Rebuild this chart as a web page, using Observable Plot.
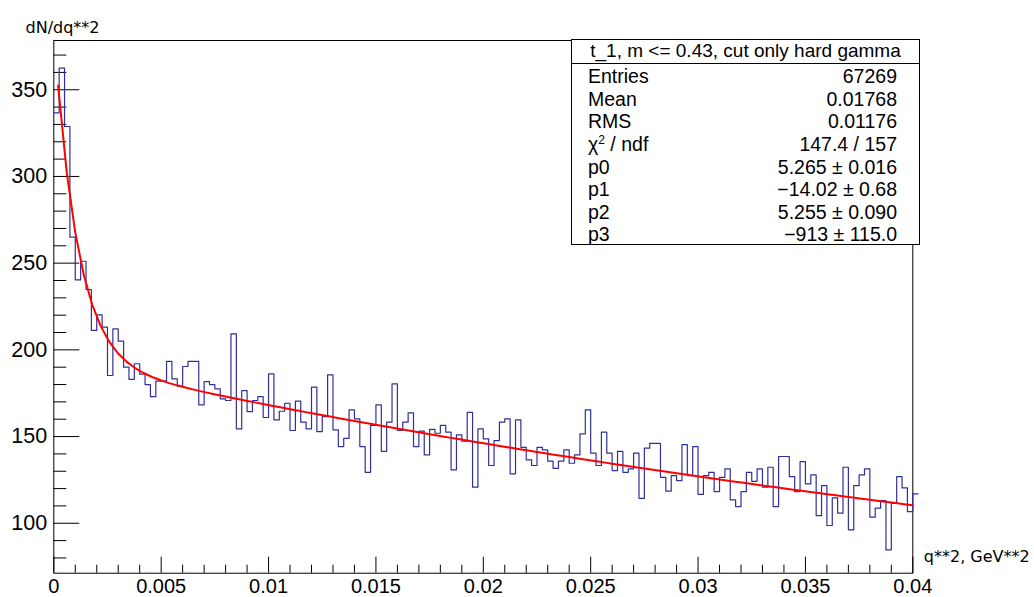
<!DOCTYPE html>
<html>
<head>
<meta charset="utf-8">
<script src="https://cdn.jsdelivr.net/npm/d3@7"></script>
<script src="https://cdn.jsdelivr.net/npm/@observablehq/plot@0.6"></script>
<style>
  body { margin: 0; background: #fff; }
  #wrap { position: relative; width: 1034px; height: 597px; overflow: hidden; }
  .stats {
    position: absolute; left: 571px; top: 39px; width: 349px; height: 206px;
    border: 1px solid #000; background: #fff; box-sizing: border-box;
    font-family: "Liberation Sans", Arial, Helvetica, sans-serif; font-size: 19.5px; color: #000;
  }
  .stats .title { height: 23px; line-height: 22px; text-align: center; border-bottom: 1px solid #000; font-size: 19px; }
  .stats .row { display: flex; justify-content: space-between; height: 22.65px; line-height: 24px; padding: 0 22px 0 16px; }
  .stats sup { font-size: 12px; line-height: 0; vertical-align: 7px; }
</style>
</head>
<body>
<div id="wrap"></div>
<script>
// dN/dq**2 per bin, bins of width 0.00025 starting at q**2 = 0
// (the last entry is the bin just past 0.04 that pokes out of the frame)
const binCounts = [
  336.7, 362.5, 328.8, 265.0, 240.4, 251.1, 234.8, 211.2, 220.2, 213.1,
  185.2, 212.1, 205.0, 190.0, 183.0, 192.0, 186.0, 180.0, 173.0, 182.0,
  182.0, 193.3, 183.3, 179.0, 190.4, 193.3, 193.3, 168.3, 181.7, 180.0,
  177.5, 171.7, 170.8, 209.2, 154.4, 176.5, 164.4, 170.8, 173.0, 161.0,
  186.2, 159.6, 164.6, 169.2, 153.5, 170.4, 158.3, 154.4, 178.5, 152.9,
  161.5, 185.6, 153.9, 144.2, 149.0, 165.4, 160.2, 144.2, 129.4, 156.4,
  168.3, 141.5, 158.3, 180.4, 153.5, 158.3, 163.7, 144.2, 153.1, 139.4,
  154.1, 151.9, 156.4, 152.5, 130.8, 151.0, 147.3, 164.0, 120.8, 154.4,
  148.7, 133.3, 147.7, 158.3, 160.2, 128.5, 159.6, 143.8, 136.6, 133.3,
  143.8, 142.3, 135.8, 131.7, 135.8, 142.3, 134.6, 139.4, 151.6, 165.4,
  140.4, 133.3, 152.5, 140.4, 130.4, 141.5, 129.4, 131.4, 140.4, 114.4,
  143.3, 146.1, 146.1, 126.5, 118.5, 127.5, 124.6, 145.4, 127.5, 144.2,
  116.6, 127.5, 129.4, 118.3, 126.5, 131.4, 113.5, 109.6, 118.3, 129.4,
  124.2, 131.4, 120.8, 132.3, 109.6, 138.5, 138.5, 126.9, 118.3, 135.6,
  122.7, 127.9, 104.4, 121.7, 98.7, 114.6, 105.8, 132.3, 96.2, 121.7,
  127.9, 131.4, 103.5, 108.7, 113.1, 84.7, 111.5, 126.9, 120.4, 106.7,
  117.0
];
const binWidth = 0.00025;

// fit: exp(p0 + p1*x) + exp(p2 + p3*x), parameters as listed in the stats box
const fitParams = [5.265, -14.02, 5.255, -913];
const fitRange = [0.0002, 0.04];

const xTicks = [0, 0.005, 0.01, 0.015, 0.02, 0.025, 0.03, 0.035, 0.04];
const xTickLabels = ["0", "0.005", "0.01", "0.015", "0.02", "0.025", "0.03", "0.035", "0.04"];
const yTicks = [100, 150, 200, 250, 300, 350];
const yTickLabels = ["100", "150", "200", "250", "300", "350"];

const xTitle = "q**2, GeV**2";
const yTitle = "dN/dq**2";

const statsTitle = "t_1, m <= 0.43, cut only hard gamma";
const statsLabels = ["Entries", "Mean", "RMS", "χ<sup>2</sup> / ndf", "p0", "p1", "p2", "p3"];
const statsValues = ["67269", "0.01768", "0.01176", "147.4 / 157",
  "5.265 ± 0.016", "−14.02 ± 0.68", "5.255 ± 0.090", "−913 ± 115.0"];

// frame geometry
const W = 1034, H = 597;
const mL = 53.3, mR = W - 912.3, mT = 40, mB = H - 572.7;
const innerW = W - mL - mR, innerH = H - mT - mB;

const xDomain = [0, 0.04];
const yDomain = [71.2, 378.4];

// minor tick positions
const xMinor = d3.range(0, 41).filter(i => i % 5 !== 0).map(i => i / 1000);
const yMinor = d3.range(80, 371, 10).filter(v => v % 50 !== 0);

// histogram outline as a step line
const steps = binCounts.map((v, i) => ({x: i * binWidth, y: v}));
steps.push({x: binCounts.length * binWidth, y: binCounts[binCounts.length - 1]});

// fit curve sampled at 100 segments over its range
const [p0, p1, p2, p3] = fitParams;
const fitPts = d3.range(0, 101).map(k => {
  const x = fitRange[0] + (fitRange[1] - fitRange[0]) * k / 100;
  return {x, y: Math.exp(p0 + p1 * x) + Math.exp(p2 + p3 * x)};
});

const tickFont = "Liberation Sans, Arial, Helvetica, sans-serif";

const chart = Plot.plot({
  width: W, height: H,
  marginLeft: mL, marginRight: mR, marginTop: mT, marginBottom: mB,
  x: {domain: xDomain},
  y: {domain: yDomain},
  style: {fontFamily: tickFont, fontSize: "21.5px", color: "#000", background: "#fff", overflow: "visible"},
  marks: [
    Plot.frame({stroke: "#000", strokeWidth: 1}),
    // y ticks, drawn inward from the left edge
    Plot.ruleY(yTicks, {y: d => d, insetRight: innerW - 26, stroke: "#000", strokeWidth: 1}),
    Plot.ruleY(yMinor, {y: d => d, insetRight: innerW - 13, stroke: "#000", strokeWidth: 1}),
    // x ticks, drawn upward from the bottom edge
    Plot.ruleX(xTicks, {x: d => d, insetTop: innerH - 16, stroke: "#000", strokeWidth: 1}),
    Plot.ruleX(xMinor, {x: d => d, insetTop: innerH - 8, stroke: "#000", strokeWidth: 1}),
    Plot.axisY(yTicks, {tickSize: 0, tickPadding: 6.6, label: null,
      tickFormat: d => yTickLabels[yTicks.indexOf(d)]}),
    Plot.axisX(xTicks, {tickSize: 0, tickPadding: 5.1, label: null, fontSize: 20,
      tickFormat: d => xTickLabels[xTicks.indexOf(d)]}),
    Plot.line(steps, {x: "x", y: "y", curve: "step-after", stroke: "#30309c", strokeWidth: 1.2}),
    Plot.line(fitPts, {x: "x", y: "y", stroke: "#ff0000", strokeWidth: 2}),
    Plot.text([yTitle], {frameAnchor: "top-left", textAnchor: "start", dx: -28.3, dy: -18.6,
      fontFamily: "DejaVu Sans", fontSize: 16, fill: "#000"}),
    Plot.text([xTitle], {frameAnchor: "bottom-right", textAnchor: "start", dx: 11, dy: -11.3,
      fontFamily: "DejaVu Sans", fontSize: 16, fill: "#000"})
  ]
});

const wrap = document.getElementById("wrap");
wrap.appendChild(chart);

// statistics box
const box = document.createElement("div");
box.className = "stats";
const title = document.createElement("div");
title.className = "title";
title.textContent = statsTitle;
box.appendChild(title);
statsLabels.forEach((lab, i) => {
  const row = document.createElement("div");
  row.className = "row";
  const l = document.createElement("span");
  l.innerHTML = lab;
  const v = document.createElement("span");
  v.textContent = statsValues[i];
  row.appendChild(l);
  row.appendChild(v);
  box.appendChild(row);
});
wrap.appendChild(box);
</script>
</body>
</html>
